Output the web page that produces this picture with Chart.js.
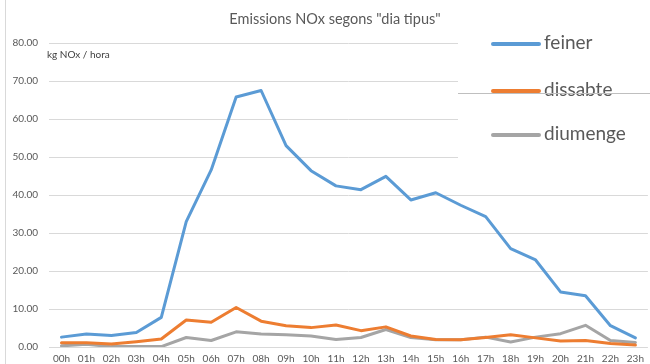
<!DOCTYPE html>
<html>
<head>
<meta charset="utf-8">
<script src="https://cdn.jsdelivr.net/npm/chart.js@4.4.1/dist/chart.umd.min.js"></script>
<style>
  html, body { margin: 0; padding: 0; background: #fff; }
  #wrap { width: 650px; height: 364px; position: relative; }
</style>
</head>
<body>
<div id="wrap"><canvas id="noxChart"></canvas></div>
<script>
  // Hourly NOx emissions (kg/hora) by day type
  const hours = ['00h','01h','02h','03h','04h','05h','06h','07h','08h','09h','10h','11h',
                 '12h','13h','14h','15h','16h','17h','18h','19h','20h','21h','22h','23h'];
  const feiner = [2.6, 3.4, 3.0, 3.8, 7.8, 33.0, 46.6, 65.8, 67.5, 53.0, 46.4, 42.4,
                  41.4, 44.9, 38.7, 40.6, 37.3, 34.3, 25.9, 22.9, 14.5, 13.5, 5.6, 2.4];
  const dissabte = [1.1, 1.1, 0.8, 1.4, 2.1, 7.1, 6.5, 10.4, 6.8, 5.6, 5.1, 5.8,
                    4.3, 5.3, 2.9, 2.0, 1.9, 2.5, 3.2, 2.4, 1.6, 1.7, 0.9, 0.5];
  const diumenge = [0.3, 0.7, 0.1, 0.1, 0.1, 2.5, 1.7, 4.0, 3.4, 3.2, 2.9, 2.0,
                    2.5, 4.6, 2.5, 1.9, 1.9, 2.6, 1.3, 2.6, 3.5, 5.7, 1.7, 1.2];
  const yTicks = [0, 10, 20, 30, 40, 50, 60, 70, 80];

  const chartTitle = 'Emissions NOx segons "dia tipus"';
  const unitLabel = 'kg NOx / hora';
  const textColor = '#595959';
  const fontFam = 'Lato, "Open Sans", sans-serif';

  // title, unit text, frame line and the boxed legend on the right
  const decorations = {
    id: 'decorations',
    beforeDraw(chart) {
      const c = chart.ctx;
      c.save();
      c.strokeStyle = '#d9d9d9';
      c.lineWidth = 1;
      c.beginPath();
      c.moveTo(5.5, 0);
      c.lineTo(5.5, chart.height);
      c.stroke();
      c.restore();
    },
    afterDatasetsDraw(chart) {
      const c = chart.ctx;
      c.save();
      c.fillStyle = textColor;
      c.textBaseline = 'middle';
      c.textAlign = 'center';
      c.font = '14.5px ' + fontFam;
      c.fillText(chartTitle, 335, 19);
      c.textAlign = 'left';
      c.font = '10px ' + fontFam;
      c.fillStyle = '#404040';
      c.fillText(unitLabel, 47, 55);

      // legend box
      const boxL = 458, boxT = 30, boxB = 170;
      c.fillStyle = '#fff';
      c.fillRect(boxL, boxT, chart.width - boxL, boxB - boxT);
      const rowY = [44, 91, 135];
      chart.data.datasets.forEach((ds, i) => {
        const y = rowY[i];
        c.strokeStyle = ds.borderColor;
        c.lineWidth = 4;
        c.lineCap = 'round';
        c.beginPath();
        c.moveTo(493, y);
        c.lineTo(539, y);
        c.stroke();
        c.fillStyle = textColor;
        c.font = '19px ' + fontFam;
        c.textBaseline = 'middle';
        c.fillText(ds.label, 544, y - 1);
      });
      c.strokeStyle = '#bfbfbf';
      c.lineWidth = 1;
      c.lineCap = 'butt';
      c.beginPath();
      c.moveTo(boxL, 93.5);
      c.lineTo(chart.width, 93.5);
      c.stroke();
      c.restore();
    }
  };

  const ctx = document.getElementById('noxChart').getContext('2d');
  const chart = new Chart(ctx, {
    type: 'line',
    data: {
      labels: hours,
      datasets: [
        { label: 'feiner', data: feiner, borderColor: '#5B9BD5', backgroundColor: '#5B9BD5' },
        { label: 'dissabte', data: dissabte, borderColor: '#ED7D31', backgroundColor: '#ED7D31' },
        { label: 'diumenge', data: diumenge, borderColor: '#A5A5A5', backgroundColor: '#A5A5A5' }
      ]
    },
    options: {
      responsive: true,
      maintainAspectRatio: false,
      animation: false,
      // plot runs slightly past the right edge of the canvas
      layout: { padding: { top: 43, left: 0, right: -3, bottom: 0 } },
      elements: {
        line: { borderWidth: 3, tension: 0, borderJoinStyle: 'round', borderCapStyle: 'round' },
        point: { radius: 0 }
      },
      plugins: {
        legend: { display: false },
        title: { display: false },
        tooltip: { enabled: false }
      },
      scales: {
        x: {
          offset: true,
          grid: { display: false, drawTicks: false },
          border: { display: false },
          ticks: { color: textColor, font: { family: fontFam, size: 10 }, padding: 6, maxRotation: 0, autoSkip: false },
          afterFit(scale) { scale.height = 17; }
        },
        y: {
          min: 0,
          max: 80,
          afterBuildTicks(scale) { scale.ticks = yTicks.map(v => ({ value: v })); },
          grid: { color: '#d9d9d9', lineWidth: 1, drawTicks: false },
          border: { display: false },
          ticks: {
            color: textColor,
            font: { family: fontFam, size: 10 },
            padding: 11,
            callback: v => v.toFixed(2)
          },
          afterFit(scale) { scale.width = 49; }
        }
      }
    },
    plugins: [decorations]
  });
</script>
</body>
</html>
